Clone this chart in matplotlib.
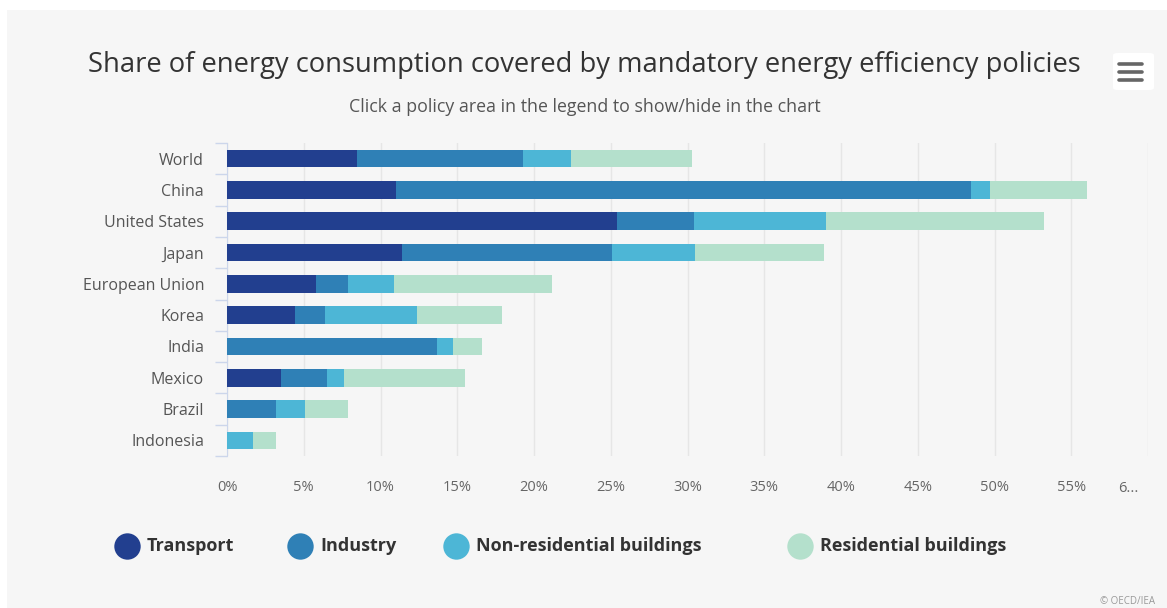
import matplotlib
matplotlib.use("Agg")
import numpy as np
import matplotlib.pyplot as plt
from matplotlib.lines import Line2D
from matplotlib.patches import Rectangle, FancyBboxPatch

plt.rcParams["font.family"] = ["Open Sans", "DejaVu Sans"]

# ─── Data (share of energy consumption, %) ───────────────────────────────────
COUNTRIES = ["World", "China", "United States", "Japan", "European Union",
             "Korea", "India", "Mexico", "Brazil", "Indonesia"]
TRANSPORT   = [8.5, 11.0, 25.4, 11.4, 5.8, 4.4, 0.0, 3.5, 0.0, 0.0]
INDUSTRY    = [10.8, 37.5, 5.0, 13.7, 2.1, 2.0, 13.7, 3.0, 3.2, 0.0]
NON_RES     = [3.1, 1.2, 8.6, 5.4, 3.0, 6.0, 1.0, 1.1, 1.9, 1.7]
RESIDENTIAL = [7.9, 6.3, 14.2, 8.4, 10.3, 5.5, 1.9, 7.9, 2.8, 1.5]

SERIES_NAMES = ["Transport", "Industry", "Non-residential buildings", "Residential buildings"]
COLOURS = ["#223f8f", "#2f80b6", "#4db6d6", "#b4e0cc"]

X_TICKS = list(range(0, 65, 5))
X_LABELS = [f"{t}%" for t in X_TICKS[:-1]] + ["6..."]

W, H = 1167, 608


def fx(x):
    return x / W


def fy(y):
    return 1 - y / H


fig = plt.figure(figsize=(W / 100, H / 100), dpi=100, facecolor="white")

# grey page background
fig.patches.append(Rectangle((fx(7), 0), 1, fy(10), transform=fig.transFigure,
                             facecolor="#f6f6f6", edgecolor="none", zorder=-10))

ax = fig.add_axes([fx(227), fy(456), (1148 - 227) / W, (456 - 143) / H])
ax.set_facecolor("none")
ax.set_zorder(2)

y = np.arange(len(COUNTRIES))
left = np.zeros(len(COUNTRIES))
for name, vals, col in zip(SERIES_NAMES, [TRANSPORT, INDUSTRY, NON_RES, RESIDENTIAL], COLOURS):
    vals = np.array(vals)
    ax.barh(y, vals, left=left, height=0.56, color=col, edgecolor="none", zorder=3)
    left += vals

ax.set_xlim(0, 60)
ax.set_ylim(len(COUNTRIES) - 0.5, -0.5)

# last label is truncated and sits left of its gridline, so it is drawn separately
ax.set_xticks(X_TICKS)
ax.set_xticklabels(X_LABELS[:-1] + [""], fontsize=10.5, color="#666666")
ax.tick_params(axis="x", length=0, pad=17)
ax.annotate(X_LABELS[-1], xy=(X_TICKS[-1], 0), xycoords=("data", "axes fraction"),
            xytext=(-20, -32), textcoords="offset pixels", ha="center", va="center",
            fontsize=10.5, color="#666666", annotation_clip=False)
ax.xaxis.grid(True, color="#e6e6e6", linewidth=1, zorder=0)
ax.set_axisbelow(True)

ax.set_yticks(y)
ax.set_yticklabels(COUNTRIES, fontsize=11.5, color="#555555")
ax.tick_params(axis="y", which="major", length=0, pad=16.5)
ax.set_yticks(np.arange(-0.5, len(COUNTRIES)), minor=True)
ax.tick_params(axis="y", which="minor", length=8.5, width=1, color="#ccd6eb")

for side in ["top", "right", "bottom"]:
    ax.spines[side].set_visible(False)
ax.spines["left"].set_color("#ccd6eb")

# ─── Titles ──────────────────────────────────────────────────────────────────
fig.text(fx(584), fy(65), "Share of energy consumption covered by mandatory energy efficiency policies",
         ha="center", va="center", fontsize=19.7, color="#333333")
fig.text(fx(585), fy(107), "Click a policy area in the legend to show/hide in the chart",
         ha="center", va="center", fontsize=12.8, color="#555555")

# ─── Legend ──────────────────────────────────────────────────────────────────
LEGEND_X = [127, 300, 456, 800]
for name, col, lx in zip(SERIES_NAMES, COLOURS, LEGEND_X):
    fig.add_artist(Line2D([fx(lx)], [fy(546)], marker="o", markersize=19,
                          markerfacecolor=col, markeredgecolor="none",
                          transform=fig.transFigure))
    fig.text(fx(lx + 20), fy(546), name, ha="left", va="center",
             fontsize=13, fontweight="bold", color="#333333")

# ─── Menu button ─────────────────────────────────────────────────────────────
fig.patches.append(FancyBboxPatch((fx(1113), fy(90)), (1154 - 1113) / W, (90 - 53) / H,
                                  boxstyle="round,pad=0,rounding_size=0.004",
                                  transform=fig.transFigure, facecolor="white",
                                  edgecolor="none", zorder=1))
for ly in [64, 72, 80]:
    fig.add_artist(Line2D([fx(1119), fx(1142)], [fy(ly), fy(ly)], color="#666666",
                          linewidth=2.6, solid_capstyle="round",
                          transform=fig.transFigure))

fig.text(fx(1128), fy(601), "© OECD/IEA", ha="center", va="center",
         fontsize=7, color="#999999")

fig.savefig("out.png", dpi=100, facecolor=fig.get_facecolor())
